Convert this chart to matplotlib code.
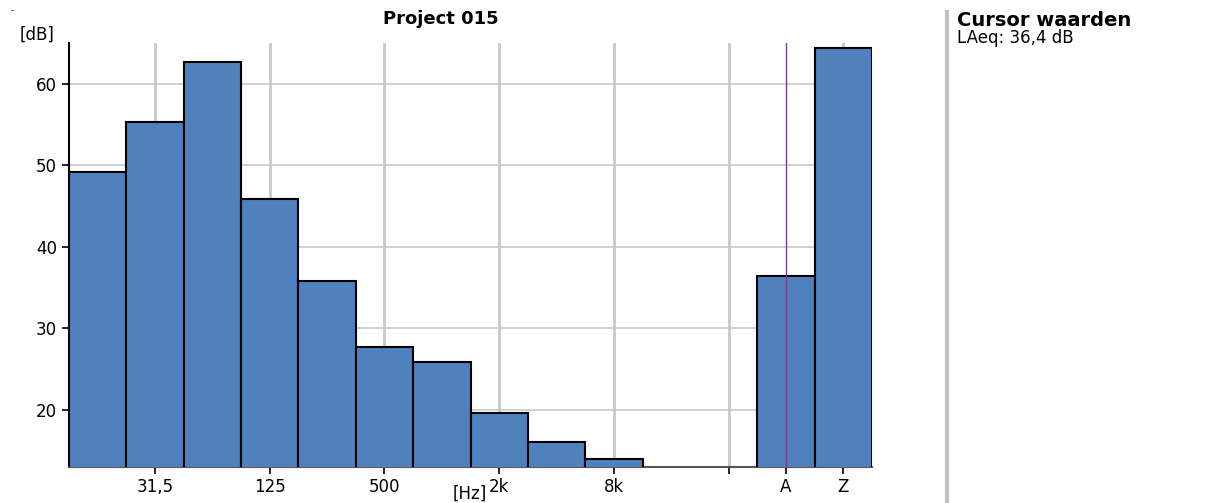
import matplotlib
matplotlib.use("Agg")
import matplotlib.pyplot as plt
import numpy as np

# octave bands 16 Hz .. 8 kHz (16k slot is empty), then A and Z totals
bands = ["16", "31,5", "63", "125", "250", "500", "1k", "2k", "4k", "8k"]
band_levels = [49.2, 55.3, 62.7, 45.9, 35.8, 27.7, 25.9, 19.6, 16.1, 14.0]
totals = ["A", "Z"]
total_levels = [36.4, 64.4]
tick_labels = ["31,5", "125", "500", "2k", "8k", "", "A", "Z"]
cursor_text = "LAeq: 36,4 dB"

bar_color = "#4f81bd"
grid_color = "#c8c8c8"

plt.rcParams["font.family"] = ["DejaVu Sans"]

fig = plt.figure(figsize=(12.06, 5.03), dpi=100)
ax = fig.add_axes([69 / 1206, 1 - 467 / 503, (872 - 69) / 1206, (467 - 43) / 503])

x_bands = np.arange(len(bands))
x_totals = np.arange(len(totals)) + len(bands) + 2
ax.bar(x_bands, band_levels, width=1.0, color=bar_color,
       edgecolor="black", linewidth=1.5, zorder=3)
ax.bar(x_totals, total_levels, width=1.0, color=bar_color,
       edgecolor="black", linewidth=1.5, zorder=3)

ax.set_xlim(-0.5, 13.5)
ax.set_ylim(13, 65)

grid_x = [1, 3, 5, 7, 9, 11, 13]
for gx in grid_x:
    ax.axvline(gx, color=grid_color, linewidth=2, zorder=1)
for gy in [20, 30, 40, 50, 60]:
    ax.axhline(gy, color=grid_color, linewidth=1.2, zorder=1)

# cursor on A
ax.axvline(x_totals[0], color="#7a3c8c", linewidth=1, zorder=4)

ax.set_xticks([1, 3, 5, 7, 9, 11, 12, 13])
ax.set_xticklabels(tick_labels)
ax.set_yticks([20, 30, 40, 50, 60])
ax.tick_params(axis="both", labelsize=12, length=5, width=1.2, colors="black")
ax.tick_params(axis="x", pad=3)

for s in ["top", "right"]:
    ax.spines[s].set_visible(False)
ax.spines["left"].set_linewidth(1.5)
ax.spines["bottom"].set_color("#555555")
ax.spines["bottom"].set_linewidth(1.5)

fig.text(441 / 1206, 1 - 19 / 503, "Project 015", ha="center", va="center",
         fontsize=13, fontweight="bold")
fig.text(37 / 1206, 1 - 35 / 503, "[dB]", ha="center", va="center", fontsize=12)
fig.text(470 / 1206, 1 - 494 / 503, "[Hz]", ha="center", va="center", fontsize=12)
fig.text(12 / 1206, 1 - 11 / 503, "-", ha="center", va="center", fontsize=6)

# side panel
fig.add_artist(plt.Line2D([947 / 1206, 947 / 1206], [0, 1 - 12 / 503],
                          color="#c0c0c0", linewidth=3))
fig.text(957 / 1206, 1 - 21 / 503, "Cursor waarden", ha="left", va="center",
         fontsize=14, fontweight="bold")
fig.text(957 / 1206, 1 - 38 / 503, cursor_text, ha="left", va="center", fontsize=12)

fig.savefig("out.png", dpi=100)
